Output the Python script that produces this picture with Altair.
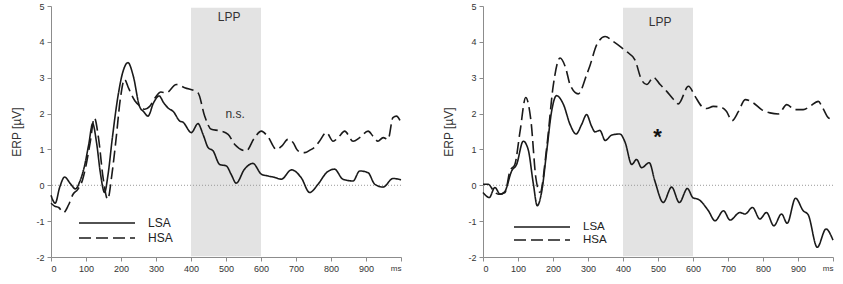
import altair as alt
import pandas as pd

# ---------------- data ----------------
left_lsa_ms = [0, 12, 25, 39, 55, 70, 82, 96, 108, 119, 130, 141, 153, 163, 175, 190, 205, 220, 235, 253, 265, 277,
               293, 309, 322, 334, 350, 368, 377, 401, 420, 434, 449, 463, 482, 501, 515, 529, 553, 577, 601, 620,
               639, 658, 687, 715, 739, 763, 787, 810, 834, 863, 882, 906, 925, 949, 977, 1000]
left_lsa_uv = [-0.28, -0.5, -0.05, 0.23, 0.05, -0.1, 0.1, 0.55, 1.15, 1.72, 1.2, 0.35, -0.2, 0.3, 1.3, 2.4, 3.15,
               3.42, 3.05, 2.2, 2.05, 1.93, 2.3, 2.49, 2.3, 2.16, 2.05, 1.79, 1.76, 1.47, 1.72, 1.43, 1.05, 0.96,
               0.58, 0.54, 0.3, 0.06, 0.45, 0.61, 0.31, 0.26, 0.22, 0.17, 0.43, 0.21, -0.2, 0.03, 0.35, 0.45, 0.17,
               0.12, 0.4, 0.35, 0.03, -0.05, 0.19, 0.15]

left_hsa_ms = [0, 10, 22, 36, 50, 63, 76, 90, 100, 112, 124, 136, 149, 162, 174, 186, 198, 210, 222, 240, 256, 268,
               282, 298, 314, 329, 358, 382, 420, 439, 458, 482, 506, 525, 558, 580, 601, 620, 644, 660, 677, 691,
               706, 725, 740, 757, 767, 787, 806, 822, 839, 863, 882, 906, 920, 934, 949, 963, 977, 987, 1000]
left_hsa_uv = [-0.5, -0.58, -0.62, -0.76, -0.55, -0.25, -0.12, 0.15, 0.55, 1.2, 1.88, 1.3, 0.2, -0.39, 0.3, 1.3,
               2.4, 2.95, 2.7, 2.35, 2.2, 2.12, 2.2, 2.45, 2.6, 2.58, 2.81, 2.72, 2.58, 1.93, 1.56, 1.52, 1.42, 1.14,
               0.96, 1.3, 1.51, 1.35, 1.0, 1.1, 1.28, 1.2, 0.96, 0.91, 0.98, 1.1, 1.23, 1.47, 1.23, 1.35, 1.51, 1.23,
               1.33, 1.51, 1.37, 1.23, 1.33, 1.28, 1.89, 1.93, 1.75]

right_lsa_ms = [0, 18, 34, 49, 62, 82, 96, 115, 129, 144, 155, 168, 182, 196, 210, 230, 249, 266, 282, 296, 310,
                320, 334, 349, 368, 391, 406, 425, 439, 453, 475, 491, 515, 539, 561, 584, 600, 615, 644, 663, 687,
                706, 734, 749, 770, 791, 810, 831, 853, 869, 893, 915, 929, 955, 980, 1000]
right_lsa_uv = [-0.2, -0.34, -0.06, -0.25, -0.18, 0.4, 0.58, 1.23, 1.0, 0.03, -0.57, -0.16, 0.95, 2.06, 2.5, 2.25,
                1.69, 1.43, 1.7, 1.97, 1.65, 1.49, 1.53, 1.25, 1.4, 1.43, 1.2, 0.58, 0.72, 0.49, 0.63, 0.12, -0.48,
                -0.05, -0.48, -0.09, -0.35, -0.39, -0.71, -0.99, -0.71, -0.97, -0.76, -0.8, -0.62, -0.94, -0.76,
                -1.13, -0.8, -1.06, -0.36, -0.71, -0.82, -1.73, -1.22, -1.53]

right_hsa_ms = [0, 15, 30, 44, 63, 77, 91, 106, 122, 137, 151, 163, 182, 201, 220, 236, 249, 272, 296, 306, 325,
                349, 372, 396, 410, 434, 453, 468, 487, 506, 525, 544, 558, 587, 606, 625, 639, 658, 682, 696, 711,
                730, 749, 772, 796, 820, 844, 868, 891, 915, 934, 958, 970, 987, 1000]
right_hsa_uv = [0.03, 0.03, -0.15, -0.25, -0.2, 0.4, 0.58, 1.51, 2.45, 1.8, 0.21, -0.2, 1.05, 2.8, 3.55, 3.28, 2.8,
                2.55, 3.08, 3.35, 3.92, 4.15, 4.01, 3.84, 3.73, 3.5, 2.94, 2.81, 3.01, 2.81, 2.62, 2.4, 2.27, 2.76,
                2.48, 2.2, 2.14, 2.2, 2.17, 2.06, 1.8, 2.06, 2.39, 2.3, 2.11, 2.02, 1.99, 2.25, 2.11, 2.11, 2.2,
                2.34, 2.17, 1.88, 1.83]

series_names = ["LSA", "HSA"]
lpp_window = [400, 600]          # ms
lpp_range = [-1.98, 4.95]        # µV extent of the shaded window
x_ticks = list(range(0, 1001, 100))
y_ticks = list(range(-2, 6))

# annotations: (text, ms, µV)
left_notes = [("LPP", 509, 4.7), ("n.s.", 526, 2.0)]
right_notes = [("LPP", 506, 4.55), ("*", 499, 1.35)]

FONT = "Liberation Sans, Arial, sans-serif"
INK = "#1a1a1a"


def panel(lsa_ms, lsa_uv, hsa_ms, hsa_uv, notes, leg_x, leg_y, row_pad, leg_font):
    df = pd.concat([
        pd.DataFrame({"ms": lsa_ms, "uv": lsa_uv, "series": series_names[0]}),
        pd.DataFrame({"ms": hsa_ms, "uv": hsa_uv, "series": series_names[1]}),
    ])
    xs = alt.Scale(domain=[0, 1000], nice=False, zero=False)
    ys = alt.Scale(domain=[-2, 5], nice=False, zero=False)
    xaxis = alt.Axis(values=x_ticks, title=None, grid=False, labelOverlap=False,
                     labelExpr="datum.value == 1000 ? 'ms' : '' + datum.value",
                     labelFontSize={"condition": {"test": "datum.value == 1000", "value": 8}, "value": 9})
    yaxis = alt.Axis(values=y_ticks, title="ERP [µV]", grid=False, labelOverlap=False,
                     labelExpr="'' + datum.value", titlePadding=12)

    shade = alt.Chart(pd.DataFrame({"a": [lpp_window[0]], "b": [lpp_window[1]],
                                    "lo": [lpp_range[0]], "hi": [lpp_range[1]]})).mark_rect(
        color="#e3e3e3").encode(
        x=alt.X("a:Q", scale=xs, axis=xaxis), x2="b:Q",
        y=alt.Y("lo:Q", scale=ys, axis=yaxis), y2="hi:Q")

    zero = alt.Chart(pd.DataFrame({"z": [0]})).mark_rule(
        color="#9a9a9a", strokeDash=[1, 2], strokeWidth=1).encode(y=alt.Y("z:Q", scale=ys, axis=yaxis))

    lines = alt.Chart(df).mark_line(color=INK, strokeWidth=1.6, interpolate="monotone").encode(
        x=alt.X("ms:Q", scale=xs, axis=xaxis),
        y=alt.Y("uv:Q", scale=ys, axis=yaxis),
        strokeDash=alt.StrokeDash(
            "series:N",
            scale=alt.Scale(domain=series_names, range=[[1, 0], [12, 5]]),
            sort=series_names,
            legend=alt.Legend(title=None, orient="none", legendX=leg_x, legendY=leg_y,
                              symbolType="M-1,0H10.2", symbolSize=100, symbolStrokeWidth=1.6,
                              symbolStrokeColor=INK, symbolFillColor="transparent",
                              labelFontSize=leg_font, labelColor="#222", labelFont=FONT,
                              labelOffset=58, rowPadding=row_pad, padding=0)),
    )

    nd = pd.DataFrame(notes, columns=["t", "ms", "uv"])
    small = alt.Chart(nd[nd.t != "*"]).mark_text(fontSize=12, color="#333", font=FONT).encode(
        x=alt.X("ms:Q", scale=xs, axis=xaxis), y=alt.Y("uv:Q", scale=ys, axis=yaxis), text="t:N")
    star = alt.Chart(nd[nd.t == "*"]).mark_text(fontSize=22, fontWeight="bold", color="#111", font=FONT).encode(
        x=alt.X("ms:Q", scale=xs, axis=xaxis), y=alt.Y("uv:Q", scale=ys, axis=yaxis), text="t:N")

    return alt.layer(shade, zero, lines, small, star).properties(width=350, height=251)


left = panel(left_lsa_ms, left_lsa_uv, left_hsa_ms, left_hsa_uv, left_notes, 27, 211, 3, 12)
right = panel(right_lsa_ms, right_lsa_uv, right_hsa_ms, right_hsa_uv, right_notes, 30, 215, 1, 11.5)

chart = alt.hconcat(left, right, spacing=37).resolve_legend(strokeDash="independent").properties(
    padding={"left": 10, "top": 2, "right": 0, "bottom": 5}
).configure(font=FONT).configure_view(stroke=None).configure_axis(
    domainColor="#8c8c8c", tickColor="#8c8c8c", labelColor="#333", labelFontSize=9,
    titleFontSize=12, titleFontWeight="normal", titleColor="#333", tickSize=4, labelPadding=3,
    labelFont=FONT, titleFont=FONT, labelOverlap=False
)

chart.save("out.html", embed_options={"renderer": "svg", "actions": False})
